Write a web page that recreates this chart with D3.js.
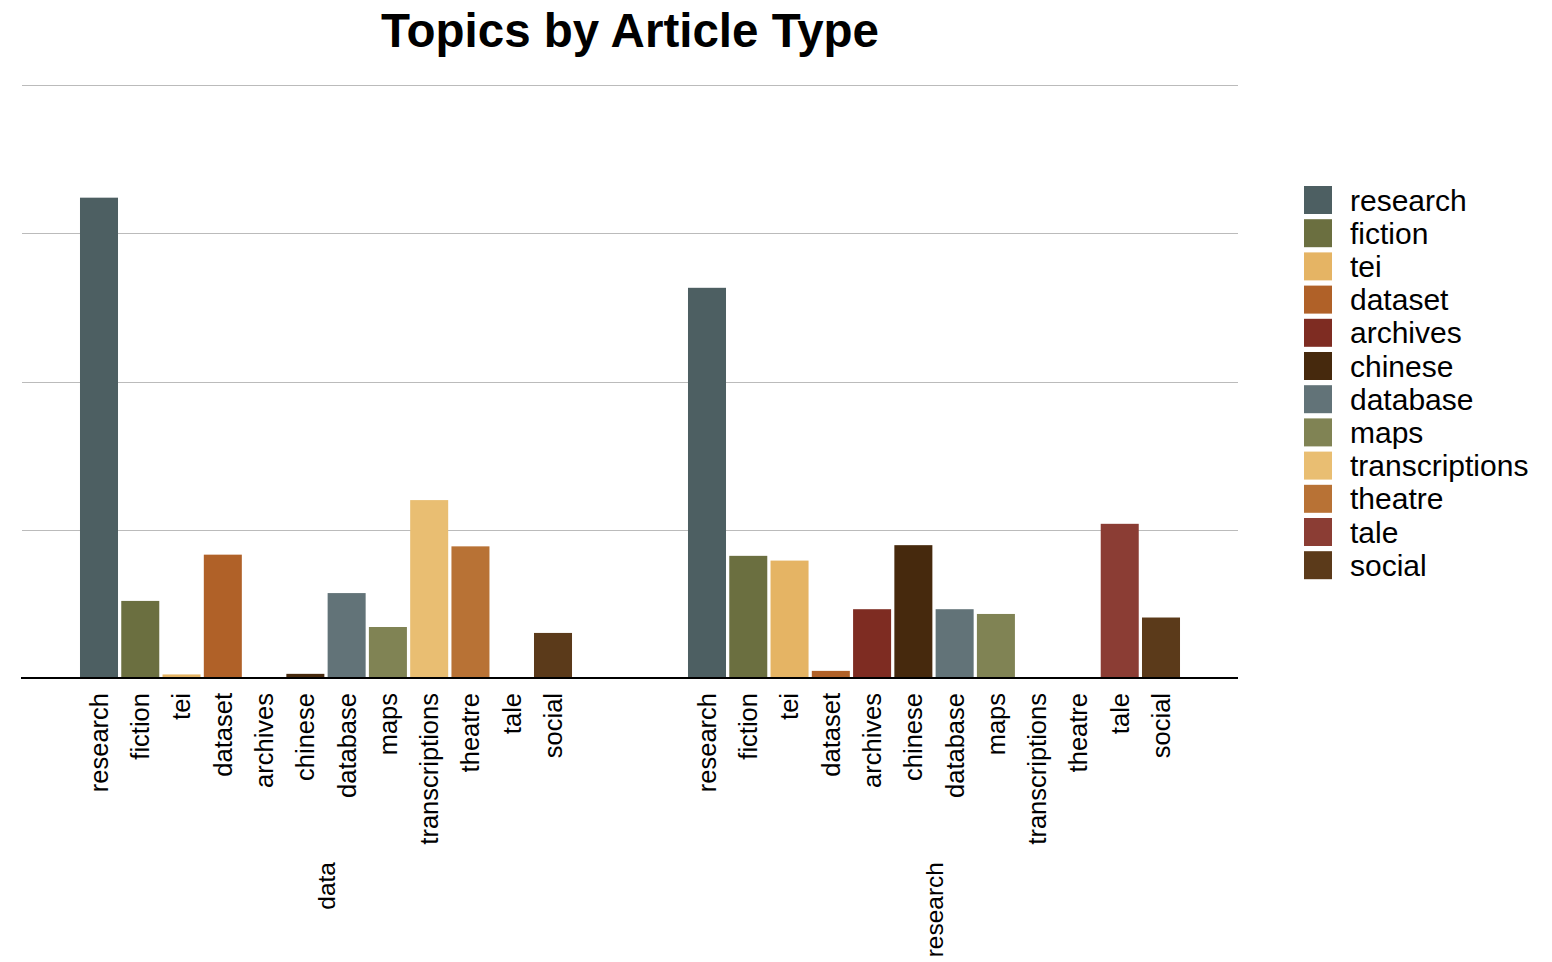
<!DOCTYPE html>
<html>
<head>
<meta charset="utf-8">
<script src="https://cdn.jsdelivr.net/npm/d3@7"></script>
<style>
  html, body { margin: 0; padding: 0; background: #fff; }
  svg { display: block; font-family: "Liberation Sans", Arial, Helvetica, sans-serif; }
</style>
</head>
<body>
<svg id="chart" width="1552" height="962"></svg>
<script>
const groups = ["data", "research"];
const topics = ["research", "fiction", "tei", "dataset", "archives", "chinese", "database", "maps", "transcriptions", "theatre", "tale", "social"];
const dataValues = [0.405, 0.065, 0.003, 0.104, 0, 0.0035, 0.0716, 0.043, 0.150, 0.111, 0, 0.038];
const researchValues = [0.329, 0.103, 0.099, 0.006, 0.058, 0.112, 0.058, 0.054, 0, 0, 0.130, 0.051];
const colors = ["#4d5f62", "#6b6f40", "#e5b464", "#b06128", "#7e2c22", "#46290d", "#627378", "#808354", "#e9be72", "#b87235", "#8b3d34", "#5b3a1a"];
const yTicks = [0, 0.125, 0.25, 0.375, 0.5];

const seriesByGroup = { data: dataValues, research: researchValues };

(function () {
const svg = d3.select("#chart");
const pLeft = 22, pRight = 1238, pTop = 85, pBottom = 678;

const x0 = d3.scaleBand().domain(groups).range([pLeft, pRight]).padding(0);
const x1 = d3.scaleBand().domain(topics).range([0, x0.bandwidth()]).paddingInner(0.079).paddingOuter(1.405);
const y = d3.scaleLinear().domain([0, 0.5]).range([pBottom, pTop]);
const color = d3.scaleOrdinal().domain(topics).range(colors);

// title
svg.append("text")
  .attr("x", (pLeft + pRight) / 2).attr("y", 47)
  .attr("text-anchor", "middle")
  .attr("font-size", 47.5).attr("font-weight", "bold")
  .text("Topics by Article Type");

// gridlines
svg.append("g").selectAll("line").data(yTicks.filter(d => d > 0)).join("line")
  .attr("x1", pLeft).attr("x2", pRight)
  .attr("y1", d => Math.round(y(d)) + 0.5).attr("y2", d => Math.round(y(d)) + 0.5)
  .attr("stroke", "#bbbbbb").attr("stroke-width", 1);

// bars
const gGroups = svg.append("g").selectAll("g").data(groups).join("g")
  .attr("transform", g => `translate(${x0(g)},0)`);

gGroups.selectAll("rect")
  .data(g => topics.map((t, i) => ({ topic: t, value: seriesByGroup[g][i] })))
  .join("rect")
  .attr("x", d => x1(d.topic))
  .attr("width", x1.bandwidth())
  .attr("y", d => y(d.value))
  .attr("height", d => y(0) - y(d.value))
  .attr("fill", d => color(d.topic));

// tick labels
gGroups.selectAll("text.tick")
  .data(topics).join("text")
  .attr("class", "tick")
  .attr("transform", t => `translate(${x1(t) + x1.bandwidth() / 2},${pBottom + 15}) rotate(-90)`)
  .attr("text-anchor", "end")
  .attr("dy", "0.35em")
  .attr("font-size", 25.5)
  .text(t => t);

// group labels
gGroups.append("text")
  .attr("transform", `translate(${x0.bandwidth() / 2},${pBottom + 184}) rotate(-90)`)
  .attr("text-anchor", "end")
  .attr("dy", "0.35em")
  .attr("font-size", 24.5)
  .text(g => g);

// baseline
svg.append("line")
  .attr("x1", pLeft - 1).attr("x2", pRight)
  .attr("y1", y(0)).attr("y2", y(0))
  .attr("stroke", "#000").attr("stroke-width", 2);

// legend
const legend = svg.append("g").attr("transform", "translate(1304,186)");
const rows = legend.selectAll("g").data(topics).join("g")
  .attr("transform", (d, i) => `translate(0,${i * 33.2})`);
rows.append("rect").attr("width", 28).attr("height", 28).attr("fill", d => color(d));
rows.append("text").attr("x", 46).attr("y", 24.5).attr("font-size", 30).text(d => d);
})();
</script>
</body>
</html>
